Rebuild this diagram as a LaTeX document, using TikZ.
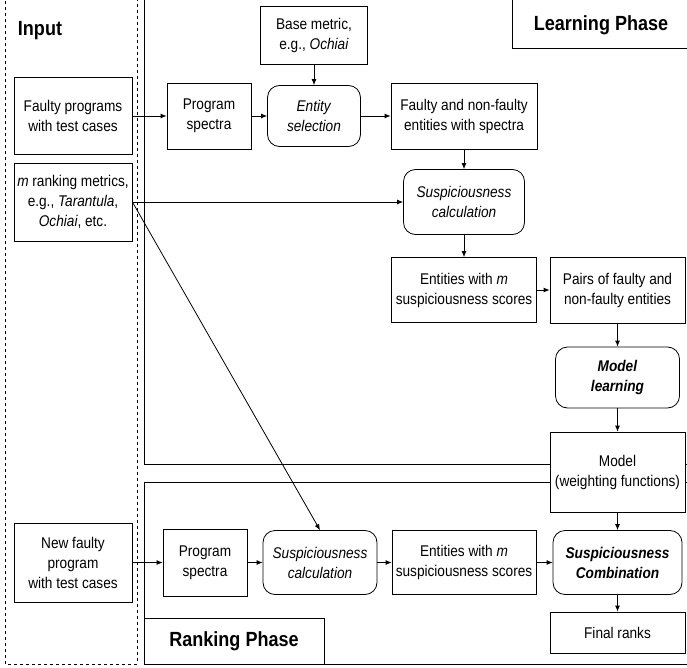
\documentclass[tikz,border=0pt]{standalone}
\usepackage{fontspec}
\setmainfont{Liberation Sans}[FakeStretch=0.88]
\usetikzlibrary{arrows.meta}
\tikzset{
  box/.style={draw, line width=0.8pt, fill=white, align=center, inner sep=0pt,
    font=\fontsize{15.5}{20}\selectfont},
  rbox/.style={box, rounded corners=12pt},
  arr/.style={line width=0.8pt, -{Latex[length=6pt,width=5pt]}},
  frame/.style={draw, line width=0.8pt},
  title/.style={font=\fontsize{20.5}{22}\selectfont\bfseries, inner sep=0pt}
}
\begin{document}
\begin{tikzpicture}[x=1pt,y=-1pt]
\useasboundingbox (0,0) rectangle (687,668);
% frames
\draw[frame, dashed, line width=0.6pt] (5,-5) rectangle (137,664);
\draw[frame] (144,-5) rectangle (695,464);
\draw[frame] (144,482) rectangle (695,664);
\draw[frame, fill=white] (512,-5) rectangle (695,48);
\draw[frame, fill=white] (144,618) rectangle (324,664);
\node[title] (tin) at (40,31) {Input};
\node[title] (tlearn) at (601,25) {Learning Phase};
\node[title] (trank) at (234,641) {Ranking Phase};
% learning phase nodes
\node[box, minimum width=107pt, minimum height=58pt] (base) at (314,35) {Base metric,\\e.g., \textit{Ochiai}};
\node[box, minimum width=118pt, minimum height=77pt] (fp) at (73,116) {Faulty programs\\with test cases};
\node[box, minimum width=118pt, minimum height=78pt] (mrank) at (73,202) {\textit{m} ranking metrics,\\e.g., \textit{Tarantula},\\\textit{Ochiai}, etc.};
\node[box, minimum width=84pt, minimum height=66pt] (ps1) at (209,116) {Program\\spectra};
\node[rbox, minimum width=93pt, minimum height=61pt] (es) at (314,116) {\textit{Entity}\\\textit{selection}};
\node[box, minimum width=146pt, minimum height=66pt] (fnf) at (464,116) {Faulty and non-faulty\\entities with spectra};
\node[rbox, minimum width=121pt, minimum height=65pt] (sc1) at (464,202) {\textit{Suspiciousness}\\\textit{calculation}};
\node[box, minimum width=145pt, minimum height=65pt] (ew1) at (464,290) {Entities with \textit{m}\\suspiciousness scores};
\node[box, minimum width=135pt, minimum height=66pt] (pairs) at (617.5,290) {Pairs of faulty and\\non-faulty entities};
\node[rbox, minimum width=124pt, minimum height=61pt] (ml) at (617.5,377.5) {\textbf{\textit{Model}}\\\textbf{\textit{learning}}};
\node[box, minimum width=135pt, minimum height=80pt] (model) at (617.5,472) {Model\\(weighting functions)};
% ranking phase nodes
\node[box, minimum width=118pt, minimum height=79pt] (nf) at (73,562.5) {New faulty\\program\\with test cases};
\node[box, minimum width=84pt, minimum height=67pt] (ps2) at (205,562.5) {Program\\spectra};
\node[rbox, minimum width=114pt, minimum height=64pt] (sc2) at (320,562.5) {\textit{Suspiciousness}\\\textit{calculation}};
\node[box, minimum width=144pt, minimum height=64pt] (ew2) at (464,562.5) {Entities with \textit{m}\\suspiciousness scores};
\node[rbox, minimum width=129pt, minimum height=64pt] (comb) at (617.5,562.5) {\textbf{\textit{Suspiciousness}}\\\textbf{\textit{Combination}}};
\node[box, minimum width=135pt, minimum height=41pt] (final) at (617.5,632.5) {Final ranks};
% arrows
\draw[arr] (fp) -- (ps1);
\draw[arr] (ps1) -- (es);
\draw[arr] (base) -- (es);
\draw[arr] (es) -- (fnf);
\draw[arr] (fnf) -- (sc1);
\draw[arr] (mrank.east) -- (sc1.west);
\draw[arr] (mrank.east) -- (sc2.north);
\draw[arr] (sc1) -- (ew1);
\draw[arr] (ew1) -- (pairs);
\draw[arr] (pairs) -- (ml);
\draw[arr] (ml) -- (model);
\draw[arr] (model) -- (comb);
\draw[arr] (nf) -- (ps2);
\draw[arr] (ps2) -- (sc2);
\draw[arr] (sc2) -- (ew2);
\draw[arr] (ew2) -- (comb);
\draw[arr] (comb) -- (final);
\end{tikzpicture}
\end{document}
